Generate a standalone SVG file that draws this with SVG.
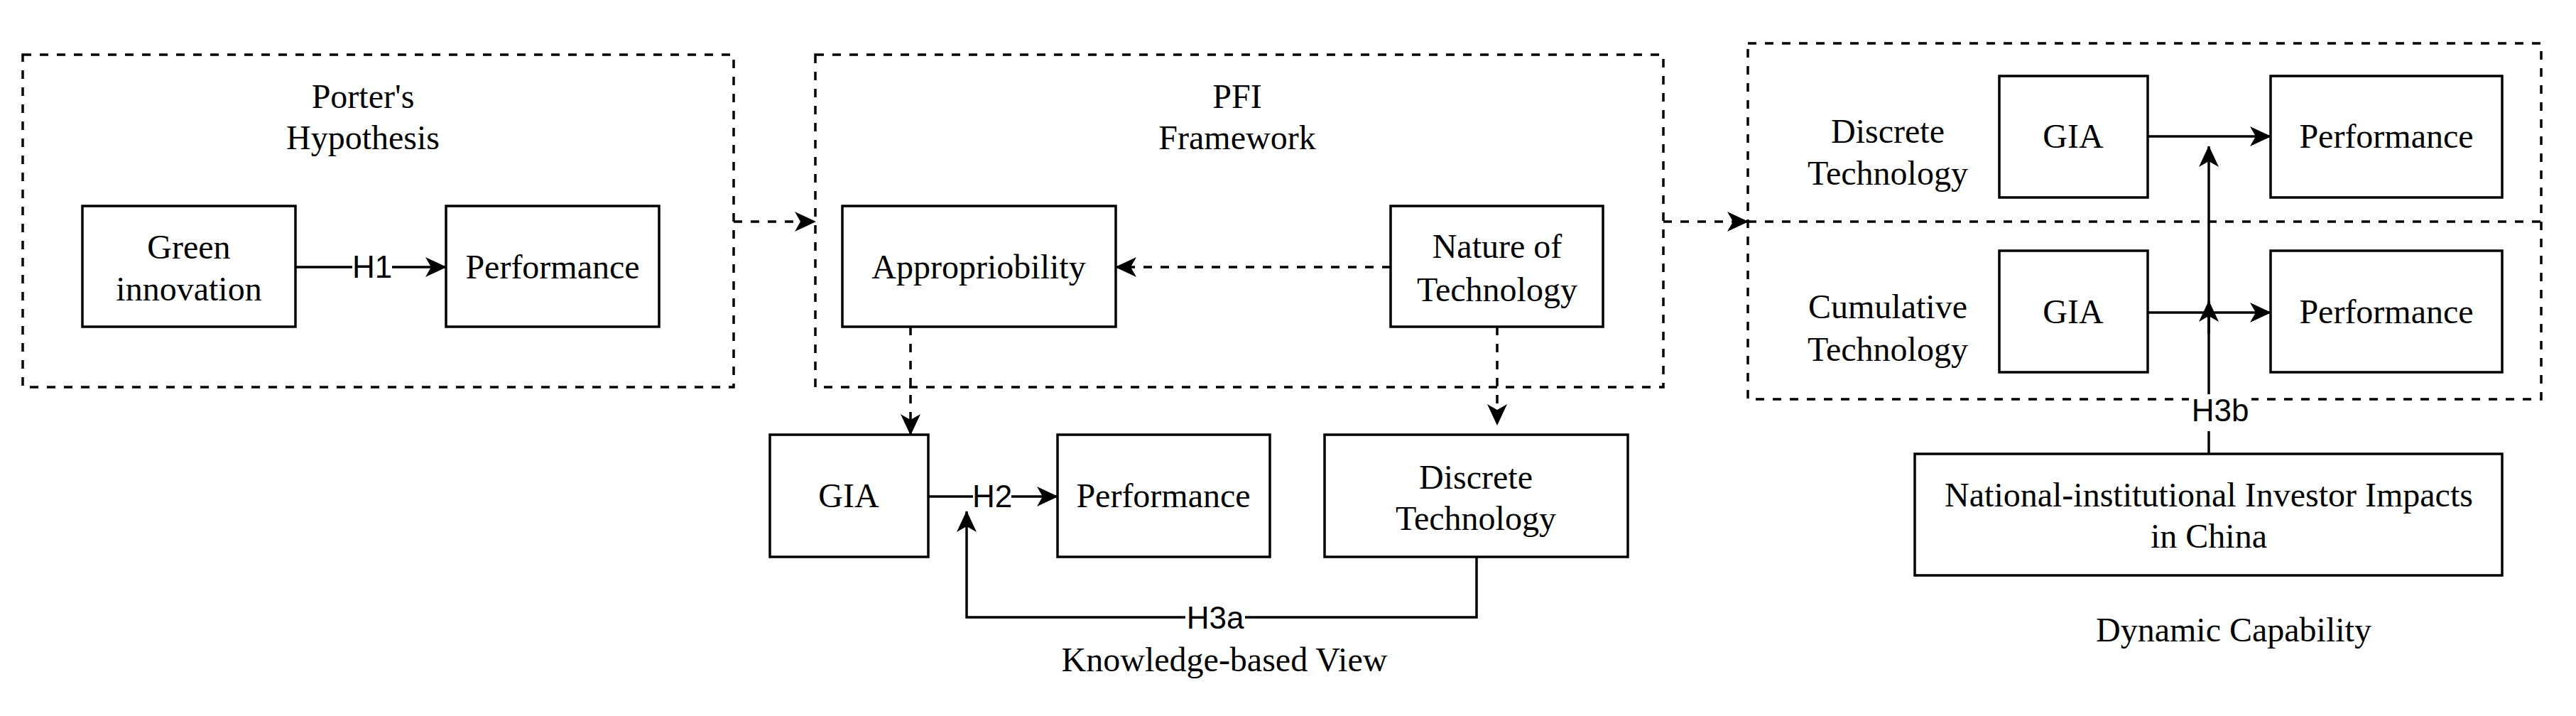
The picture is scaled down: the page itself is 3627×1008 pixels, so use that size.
<svg xmlns="http://www.w3.org/2000/svg" width="3627" height="1008" viewBox="0 0 3627 1008">
<style>
.box{fill:#fff;stroke:#000;stroke-width:3.5}
.grp{fill:none;stroke:#000;stroke-width:3.5;stroke-dasharray:12 12}
.t{font-family:"Liberation Serif","Times New Roman",serif;font-size:48px;fill:#000;text-anchor:middle}
.h{font-family:"Liberation Sans",Arial,sans-serif;font-size:44px;fill:#000;text-anchor:middle}
.ln{fill:none;stroke:#000;stroke-width:3.5}
.dl{fill:none;stroke:#000;stroke-width:3.5;stroke-dasharray:12 12}
</style>
<defs>
<marker id="a" viewBox="0 0 30 30" refX="29" refY="15" markerWidth="30" markerHeight="30" markerUnits="userSpaceOnUse" orient="auto">
<path d="M0,1 L30,15 L0,29 L8,15 Z" fill="#000"/>
</marker>
</defs>
<rect width="3627" height="1008" fill="#fff"/>
<g id="porter-group"><rect class="grp" x="32" y="77" width="1001" height="468"/>
<text class="t" x="511" y="152">Porter's</text><text class="t" x="511" y="210">Hypothesis</text></g>
<g id="pfi-group"><rect class="grp" x="1148" y="77" width="1194" height="468"/>
<text class="t" x="1742" y="152">PFI</text><text class="t" x="1742" y="210">Framework</text></g>
<g id="dc-group"><rect class="grp" x="2461" y="61" width="1117" height="501"/></g>
<g id="connectors">
<path class="ln" d="M416,376 H628" marker-end="url(#a)"/>
<rect x="496" y="350" width="56" height="50" fill="#fff"/><text class="h" x="524" y="391">H1</text>
<path class="dl" d="M1033,312 H1148" marker-end="url(#a)"/>
<path class="dl" d="M1958,376 H1571" marker-end="url(#a)"/>
<path class="dl" d="M1282,460 V612" marker-end="url(#a)"/>
<path class="dl" d="M2108,460 V598" marker-end="url(#a)"/>
<path class="ln" d="M1307,699 H1489" marker-end="url(#a)"/>
<rect x="1370" y="673" width="54" height="50" fill="#fff"/><text class="h" x="1397" y="714">H2</text>
<path class="ln" d="M2079,784 V869 H1361 V720" marker-end="url(#a)"/>
<rect x="1669" y="845" width="84" height="50" fill="#fff"/><text class="h" x="1711" y="885">H3a</text>
<path class="dl" d="M2342,312 H2461"/>
<path class="dl" d="M2461,312 H3578"/>
<path class="ln" d="M2440,312 H2461" marker-end="url(#a)"/>
<path class="ln" d="M3024,192 H3197" marker-end="url(#a)"/>
<path class="ln" d="M3024,440 H3197" marker-end="url(#a)"/>
<path class="ln" d="M3110,639 V206" marker-end="url(#a)"/>
<path class="ln" d="M3110,470 V424" marker-end="url(#a)"/>
<rect x="3082" y="555" width="88" height="52" fill="#fff"/><text class="h" x="3126" y="593">H3b</text>
</g>
<g id="green-innovation"><rect class="box" x="116" y="290" width="300" height="170"/>
<text class="t" x="266" y="364">Green</text><text class="t" x="266" y="423">innovation</text></g>
<g id="performance1"><rect class="box" x="628" y="290" width="300" height="170"/>
<text class="t" x="778" y="392">Performance</text></g>
<g id="appropriobility"><rect class="box" x="1186" y="290" width="385" height="170"/>
<text class="t" x="1378" y="392">Appropriobility</text></g>
<g id="nature"><rect class="box" x="1958" y="290" width="299" height="170"/>
<text class="t" x="2108" y="363">Nature of</text><text class="t" x="2108" y="424">Technology</text></g>
<g id="gia2"><rect class="box" x="1084" y="612" width="223" height="172"/>
<text class="t" x="1195" y="714">GIA</text></g>
<g id="performance2"><rect class="box" x="1489" y="612" width="299" height="172"/>
<text class="t" x="1638" y="714">Performance</text></g>
<g id="discrete2"><rect class="box" x="1865" y="612" width="427" height="172"/>
<text class="t" x="2078" y="688">Discrete</text><text class="t" x="2078" y="746">Technology</text></g>
<text class="t" x="1724" y="945">Knowledge-based View</text>
<g id="discrete-label"><text class="t" x="2658" y="201">Discrete</text><text class="t" x="2658" y="260">Technology</text></g>
<g id="cumulative-label"><text class="t" x="2658" y="448">Cumulative</text><text class="t" x="2658" y="508">Technology</text></g>
<g id="gia3"><rect class="box" x="2815" y="107" width="209" height="171"/>
<text class="t" x="2919" y="208">GIA</text></g>
<g id="performance3"><rect class="box" x="3197" y="107" width="326" height="171"/>
<text class="t" x="3360" y="208">Performance</text></g>
<g id="gia4"><rect class="box" x="2815" y="353" width="209" height="171"/>
<text class="t" x="2919" y="455">GIA</text></g>
<g id="performance4"><rect class="box" x="3197" y="353" width="326" height="171"/>
<text class="t" x="3360" y="455">Performance</text></g>
<g id="national"><rect class="box" x="2696" y="639" width="827" height="171"/>
<text class="t" x="3110" y="713">National-institutional Investor Impacts</text><text class="t" x="3110" y="771">in China</text></g>
<text class="t" x="3145" y="903">Dynamic Capability</text>
</svg>
